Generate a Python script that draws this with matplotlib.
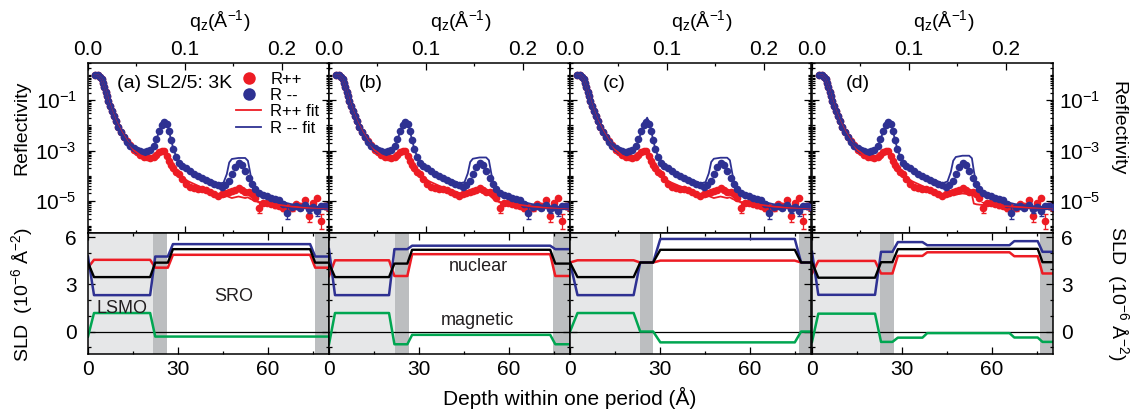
import matplotlib
matplotlib.use('Agg')
import matplotlib.pyplot as plt
import numpy as np
from matplotlib.lines import Line2D
from matplotlib.ticker import LogLocator, FuncFormatter, MultipleLocator, NullFormatter, FixedLocator

plt.rcParams['font.family'] = ['Liberation Sans', 'DejaVu Sans']
plt.rcParams['mathtext.fontset'] = 'custom'
plt.rcParams['mathtext.rm'] = 'Liberation Sans'
plt.rcParams['mathtext.it'] = 'Liberation Sans:italic'
plt.rcParams['mathtext.default'] = 'regular'

RED = '#ed1c24'
BLUE = '#2e3192'
GREEN = '#00a651'
LIGHT = '#e6e7e8'
DARK = '#bcbec0'

# ---- measured reflectivity (same data in every panel), log10(R)
q = [0.0072, 0.0100, 0.0121, 0.0141, 0.0155, 0.0169, 0.0183, 0.0197, 0.0210, 0.0228,
     0.0245, 0.0266, 0.0286, 0.0314, 0.0341, 0.0372, 0.0403, 0.0438, 0.0472, 0.0507,
     0.0541, 0.0576, 0.0610, 0.0645, 0.0679, 0.0707, 0.0734, 0.0762, 0.0790, 0.0817,
     0.0838, 0.0859, 0.0879, 0.0907, 0.0941, 0.0976, 0.1014, 0.1055, 0.1097, 0.1138,
     0.1179, 0.1221, 0.1262, 0.1303, 0.1345, 0.1383, 0.1417, 0.1452, 0.1486, 0.1521,
     0.1555, 0.1590, 0.1624, 0.1659, 0.1693, 0.1728, 0.1762, 0.1803, 0.1848, 0.1893,
     0.1934, 0.1976, 0.2017, 0.2059, 0.2107, 0.2148, 0.2193, 0.2238, 0.2279, 0.2321,
     0.2362, 0.2403, 0.2445, 0.2486]
lg_minus = [0, 0, -0.07, -0.17, -0.31, -0.47, -0.67, -0.84, -1.03, -1.24,
            -1.43, -1.64, -1.84, -2.07, -2.27, -2.47, -2.64, -2.80, -2.91, -2.97,
            -3.03, -3.05, -3.03, -2.97, -2.80, -2.53, -2.23, -2.00, -1.87, -1.96,
            -2.20, -2.57, -2.93, -3.27, -3.47, -3.60, -3.69, -3.80, -3.91, -4.00,
            -4.09, -4.16, -4.23, -4.31, -4.37, -4.44, -4.36, -4.20, -3.93, -3.64,
            -3.50, -3.58, -3.80, -4.07, -4.31, -4.53, -4.67, -4.76, -4.80, -4.87,
            -4.91, -4.97, -5.11, -5.47, -5.24, -5.20, -5.27, -5.16, -5.33, -5.24,
            -5.40, -5.21, -5.19, -5.24]
lg_plus = [0, 0, -0.07, -0.17, -0.31, -0.47, -0.67, -0.84, -1.03, -1.24,
           -1.43, -1.64, -1.84, -2.07, -2.27, -2.45, -2.62, -2.78, -2.97, -3.07,
           -3.16, -3.24, -3.27, -3.29, -3.24, -3.16, -3.07, -3.00, -3.03, -3.20,
           -3.40, -3.56, -3.69, -3.83, -3.93, -4.13, -4.33, -4.44, -4.49, -4.53,
           -4.53, -4.57, -4.63, -4.71, -4.80, -4.73, -4.67, -4.63, -4.60, -4.57,
           -4.49, -4.57, -4.63, -4.63, -4.73, -4.87, -5.27, -5.07, -5.07, -5.11,
           -5.16, -5.20, -5.27, -5.24, -5.27, -5.13, -5.20, -4.97, -5.60, -5.07,
           -4.89, -5.80, -5.20, -5.27]
# error bars (half width in decades) on a few high-q points
red_err_idx = [56, 58, 60, 62, 64, 66, 68, 71, 72]
red_err = [0.22, 0.10, 0.10, 0.12, 0.12, 0.12, 0.25, 0.30, 0.12]
blue_err_idx = [60, 63, 66, 68, 70, 72]
blue_err = [0.08, 0.25, 0.10, 0.15, 0.20, 0.10]

# ---- fits, log10(R)
fit_q = [0.0072, 0.0107, 0.0141, 0.0176, 0.0210, 0.0245, 0.0286, 0.0341, 0.0403, 0.0472,
         0.0541, 0.0610, 0.0659, 0.0693, 0.0728, 0.0762, 0.0797, 0.0824, 0.0852, 0.0866,
         0.0879, 0.0893, 0.0917, 0.0941, 0.0969, 0.1038, 0.1141, 0.1245, 0.1348, 0.1400,
         0.1434, 0.1459, 0.1486, 0.1555, 0.1624, 0.1652, 0.1672, 0.1700, 0.1745, 0.1831,
         0.1969, 0.2107, 0.2245, 0.2383, 0.2493]
fit_minus_a = [0, -0.01, -0.17, -0.53, -1.03, -1.43, -1.84, -2.27, -2.64, -2.91,
               -3.03, -3.04, -2.93, -2.71, -2.31, -2.00, -1.84, -2.00, -2.47, -2.68,
               -2.89, -3.05, -3.27, -3.42, -3.53, -3.73, -3.96, -4.13, -4.31, -4.27,
               -3.93, -3.47, -3.33, -3.29, -3.29, -3.40, -3.80, -4.40, -4.67, -4.84,
               -5.00, -5.13, -5.20, -5.24, -5.27]
fit_minus_b = [0, -0.01, -0.17, -0.53, -1.03, -1.43, -1.84, -2.27, -2.64, -2.91,
               -3.03, -3.04, -2.93, -2.72, -2.33, -2.02, -1.87, -2.02, -2.48, -2.69,
               -2.90, -3.06, -3.27, -3.42, -3.53, -3.73, -3.96, -4.13, -4.30, -4.25,
               -3.90, -3.45, -3.32, -3.27, -3.27, -3.38, -3.80, -4.40, -4.67, -4.84,
               -5.00, -5.13, -5.20, -5.24, -5.27]
fit_minus_c = [0, -0.01, -0.17, -0.53, -1.03, -1.43, -1.84, -2.27, -2.64, -2.91,
               -3.03, -3.04, -2.95, -2.75, -2.35, -1.98, -1.69, -1.95, -2.45, -2.68,
               -2.90, -3.06, -3.27, -3.42, -3.53, -3.73, -3.96, -4.13, -4.30, -4.25,
               -3.90, -3.45, -3.32, -3.28, -3.28, -3.38, -3.80, -4.40, -4.67, -4.84,
               -5.00, -5.13, -5.20, -5.24, -5.27]
fit_minus_d = [0, -0.01, -0.17, -0.53, -1.03, -1.43, -1.84, -2.27, -2.64, -2.91,
               -3.03, -3.04, -2.93, -2.72, -2.33, -2.02, -1.87, -2.02, -2.48, -2.69,
               -2.90, -3.06, -3.27, -3.42, -3.53, -3.73, -3.96, -4.13, -4.30, -4.22,
               -3.85, -3.40, -3.25, -3.20, -3.20, -3.30, -3.80, -4.40, -4.67, -4.84,
               -5.00, -5.13, -5.20, -5.24, -5.27]
fit_plus_a = [0, -0.01, -0.17, -0.53, -1.00, -1.40, -1.80, -2.22, -2.60, -2.98,
              -3.18, -3.28, -3.27, -3.21, -3.12, -3.02, -3.10, -3.30, -3.48, -3.57,
              -3.64, -3.72, -3.83, -3.93, -4.05, -4.22, -4.40, -4.58, -4.80, -4.85,
              -4.80, -4.84, -4.88, -4.82, -4.88, -4.85, -4.90, -4.95, -5.02, -5.08,
              -5.15, -5.22, -5.26, -5.27, -5.29]
fit_plus_b = [0, -0.01, -0.17, -0.53, -1.00, -1.40, -1.80, -2.22, -2.60, -2.98,
              -3.18, -3.28, -3.27, -3.21, -3.12, -3.02, -3.08, -3.28, -3.46, -3.55,
              -3.62, -3.70, -3.82, -3.93, -4.05, -4.22, -4.40, -4.55, -4.68, -4.72,
              -4.68, -4.66, -4.70, -4.62, -4.70, -4.75, -4.82, -4.92, -5.02, -5.08,
              -5.15, -5.22, -5.26, -5.27, -5.29]
fit_plus_c = [0, -0.01, -0.17, -0.53, -1.00, -1.40, -1.80, -2.22, -2.60, -2.98,
              -3.20, -3.32, -3.30, -3.22, -3.10, -2.98, -3.08, -3.45, -3.62, -3.48,
              -3.75, -3.62, -3.92, -3.82, -4.10, -4.25, -4.42, -4.60, -4.80, -4.85,
              -4.80, -4.84, -4.88, -4.82, -4.88, -4.85, -4.90, -4.95, -5.02, -5.08,
              -5.15, -5.22, -5.26, -5.27, -5.29]
fit_plus_d = [0, -0.01, -0.17, -0.53, -1.00, -1.40, -1.80, -2.22, -2.60, -2.98,
              -3.18, -3.28, -3.27, -3.21, -3.12, -3.02, -3.06, -3.26, -3.46, -3.55,
              -3.62, -3.70, -3.82, -3.93, -4.05, -4.22, -4.40, -4.58, -4.72, -4.75,
              -4.72, -4.73, -4.74, -4.70, -4.73, -4.74, -5.10, -5.13, -5.15, -5.17,
              -5.20, -5.23, -5.26, -5.27, -5.29]

# ---- SLD profiles (10^-6 A^-2) vs depth (A)
depth_a = [0, 2.0, 20.7, 22.4, 26.6, 28.3, 74.0, 75.7, 80.3]
sld_minus_a = [4.78, 2.32, 2.32, 4.78, 4.78, 5.57, 5.57, 4.78, 4.78]
sld_nuc_a = [4.39, 3.47, 3.47, 4.39, 4.39, 5.25, 5.25, 4.39, 4.39]
sld_plus_a = [4.07, 4.57, 4.57, 4.07, 4.07, 4.89, 4.89, 4.07, 4.07]
sld_mag_a = [-0.32, 1.18, 1.18, -0.32, -0.32, -0.32, -0.32, -0.32, -0.32]

depth_b = [0, 2.0, 20.0, 21.8, 26.1, 27.7, 73.7, 75.4, 80.3]
sld_minus_b = [5.25, 2.32, 2.32, 5.25, 5.25, 5.47, 5.47, 5.25, 5.25]
sld_nuc_b = [4.33, 3.47, 3.47, 4.33, 4.33, 5.21, 5.21, 4.33, 4.33]
sld_plus_b = [3.54, 4.54, 4.54, 3.54, 3.54, 4.93, 4.93, 3.54, 3.54]
sld_mag_b = [-0.81, 1.18, 1.18, -0.81, -0.81, -0.21, -0.21, -0.81, -0.81]

depth_c = [0, 2.5, 21.2, 23.4, 27.7, 30.1, 74.9, 77.0, 80.3]
sld_minus_c = [4.40, 2.32, 2.32, 4.40, 4.40, 5.90, 5.90, 4.40, 4.40]
sld_nuc_c = [4.40, 3.47, 3.47, 4.40, 4.40, 5.21, 5.21, 4.40, 4.40]
sld_plus_c = [4.40, 4.54, 4.54, 4.40, 4.40, 4.52, 4.52, 4.40, 4.40]
sld_mag_c = [0.0, 1.18, 1.18, 0.0, 0.0, -0.69, -0.69, 0.0, 0.0]

depth_d = [0, 2.1, 21.0, 23.0, 26.8, 28.6, 36.8, 38.4, 65.8, 67.4, 75.2, 76.8, 80.3]
sld_minus_d = [5.08, 2.34, 2.34, 5.08, 5.08, 5.70, 5.70, 5.50, 5.50, 5.76, 5.76, 5.08, 5.08]
sld_nuc_d = [4.42, 3.43, 3.43, 4.42, 4.42, 5.25, 5.25, 5.27, 5.27, 5.27, 5.27, 4.42, 4.42]
sld_plus_d = [3.70, 4.50, 4.50, 3.70, 3.70, 4.82, 4.82, 5.05, 5.05, 4.80, 4.80, 3.70, 3.70]
sld_mag_d = [-0.66, 1.14, 1.14, -0.66, -0.66, -0.39, -0.39, -0.10, -0.10, -0.38, -0.38, -0.66, -0.66]

# layer boundaries: end of LSMO, end of interface, start of second interface
layers_a = [21.7, 26.3, 75.7]
layers_b = [22.0, 26.7, 74.7]
layers_c = [23.3, 27.7, 76.4]
layers_d = [22.7, 27.2, 76.0]

panel_tags = ['(a) SL2/5: 3K', '(b)', '(c)', '(d)']
panels = [
    (fit_minus_a, fit_plus_a, depth_a, sld_minus_a, sld_nuc_a, sld_plus_a, sld_mag_a, layers_a),
    (fit_minus_b, fit_plus_b, depth_b, sld_minus_b, sld_nuc_b, sld_plus_b, sld_mag_b, layers_b),
    (fit_minus_c, fit_plus_c, depth_c, sld_minus_c, sld_nuc_c, sld_plus_c, sld_mag_c, layers_c),
    (fit_minus_d, fit_plus_d, depth_d, sld_minus_d, sld_nuc_d, sld_plus_d, sld_mag_d, layers_d),
]

W, H = 1136, 418
fig = plt.figure(figsize=(W / 100, H / 100), dpi=100)
lefts = [88, 329, 570, 812]
pw = 241
DEPTH_MAX = 80.3


def log_fmt(v, pos):
    e = int(round(np.log10(v)))
    return '10$^{%d}$' % e


def style(ax):
    for s in ax.spines.values():
        s.set_linewidth(1.1)
    ax.tick_params(which='both', direction='in', top=True, bottom=True,
                   left=True, right=True, width=0.9, labelsize=15)
    ax.tick_params(which='major', length=5)
    ax.tick_params(which='minor', length=2.5)


q_arr = np.array(q)
for i, (fm, fp, dep, sm, sn, sp, sg, lay) in enumerate(panels):
    x0 = lefts[i] / W
    # reflectivity
    ax = fig.add_axes([x0, (H - 233.3) / H, pw / W, 170.3 / H])
    ax.plot(q, 10 ** np.array(lg_plus), 'o', color=RED, ms=5.5, mew=0, zorder=2)
    ax.plot(q, 10 ** np.array(lg_minus), 'o', color=BLUE, ms=5.5, mew=0, zorder=3)
    for idx, err, col, lg in [(red_err_idx, red_err, RED, lg_plus),
                              (blue_err_idx, blue_err, BLUE, lg_minus)]:
        yv = 10 ** np.array([lg[k] for k in idx])
        e = np.array(err)
        ax.errorbar(q_arr[idx], yv, yerr=[yv - yv * 10 ** -e, yv * 10 ** e - yv],
                    fmt='none', ecolor=col, elinewidth=0.9, capsize=1.8, zorder=2)
    ax.plot(fit_q, 10 ** np.array(fp), color=RED, lw=1.3, zorder=4)
    ax.plot(fit_q, 10 ** np.array(fm), color=BLUE, lw=1.3, zorder=4)
    ax.set_yscale('log')
    ax.set_xlim(0, 0.249)
    ax.set_ylim(10 ** -6.28, 10 ** 0.48)
    ax.xaxis.set_major_locator(MultipleLocator(0.1))
    ax.xaxis.set_minor_locator(MultipleLocator(0.05))
    ax.xaxis.set_major_formatter(FuncFormatter(lambda v, p: '%.1f' % v))
    # labelled decades as majors, the rest of the decades and sub-ticks as minors
    ax.yaxis.set_major_locator(FixedLocator([1e-5, 1e-3, 1e-1]))
    ax.yaxis.set_minor_locator(LogLocator(base=10, subs=np.arange(1, 10), numticks=20))
    ax.yaxis.set_major_formatter(FuncFormatter(log_fmt))
    ax.yaxis.set_minor_formatter(NullFormatter())
    style(ax)
    ax.tick_params(axis='x', labeltop=True, labelbottom=False, pad=3)
    ax.tick_params(axis='y', labelleft=(i == 0), labelright=(i == 3),
                   pad=8 if i == 0 else 4)
    ax.text(0.122 if i < 2 else (0.137 if i == 2 else 0.141), 0.855, panel_tags[i],
            transform=ax.transAxes, fontsize=14, ha='left', va='baseline')
    fig.text((lefts[i] + pw / 2 + 11) / W, 1 - 21 / H, 'q$_z$(Å$^{-1}$)',
             fontsize=14, ha='center', va='center')
    if i == 0:
        handles = [Line2D([], [], marker='o', ls='none', color=RED, ms=9, mew=0),
                   Line2D([], [], marker='o', ls='none', color=BLUE, ms=9, mew=0),
                   Line2D([], [], color=RED, lw=1.3),
                   Line2D([], [], color=BLUE, lw=1.3)]
        ax.legend(handles, ['R++', 'R --', 'R++ fit', 'R -- fit'], loc='upper left',
                  bbox_to_anchor=(0.615, 0.95), frameon=False, fontsize=12,
                  handlelength=1.5, handletextpad=0.55, labelspacing=0.08,
                  borderpad=0, borderaxespad=0)

    # SLD profile
    bx = fig.add_axes([x0, (H - 354.3) / H, pw / W, 121.0 / H])
    bx.axvspan(0, lay[0], color=LIGHT, lw=0, zorder=0)
    bx.axvspan(lay[0], lay[1], color=DARK, lw=0, zorder=0)
    bx.axvspan(lay[2], DEPTH_MAX, color=DARK, lw=0, zorder=0)
    bx.axhline(0, color='k', lw=0.9, zorder=1)
    bx.plot(dep, sg, color=GREEN, lw=1.8, zorder=2)
    bx.plot(dep, sp, color=RED, lw=1.8, zorder=2)
    bx.plot(dep, sm, color=BLUE, lw=1.8, zorder=2)
    bx.plot(dep, sn, color='k', lw=1.7, zorder=3)
    bx.set_xlim(0, DEPTH_MAX)
    bx.set_ylim(-1.45, 6.26)
    bx.xaxis.set_major_locator(MultipleLocator(30))
    bx.xaxis.set_minor_locator(MultipleLocator(15))
    bx.yaxis.set_major_locator(MultipleLocator(3))
    bx.yaxis.set_minor_locator(MultipleLocator(1))
    style(bx)
    bx.tick_params(axis='x', labelbottom=True, labeltop=False, pad=4)
    bx.tick_params(axis='y', labelleft=(i == 0), labelright=(i == 3),
                   pad=8 if i == 0 else 6)
    if i == 0:
        bx.text(11.3, 1.18, 'LSMO', fontsize=13, ha='center', va='baseline', color='#231f20')
        bx.text(48.7, 1.93, 'SRO', fontsize=13, ha='center', va='baseline', color='#231f20')
    if i == 1:
        bx.text(49.8, 3.86, 'nuclear', fontsize=13, ha='center', va='baseline', color='#231f20')
        bx.text(49.5, 0.43, 'magnetic', fontsize=13, ha='center', va='baseline', color='#231f20')

fig.text(22 / W, 1 - 128 / H, 'Reflectivity', rotation=90, fontsize=14,
         ha='center', va='center')
fig.text(1118 / W, 1 - 128 / H, 'Reflectivity', rotation=270, fontsize=14,
         ha='center', va='center')
fig.text(22 / W, 1 - 294 / H, 'SLD  (10$^{-6}$ Å$^{-2}$)', rotation=90, fontsize=14,
         ha='center', va='center')
fig.text(1118 / W, 1 - 294 / H, 'SLD  (10$^{-6}$ Å$^{-2}$)', rotation=270, fontsize=14,
         ha='center', va='center')
fig.text(570 / W, 1 - 398 / H, 'Depth within one period (Å)', fontsize=15,
         ha='center', va='center')

fig.savefig('out.png', dpi=100)
